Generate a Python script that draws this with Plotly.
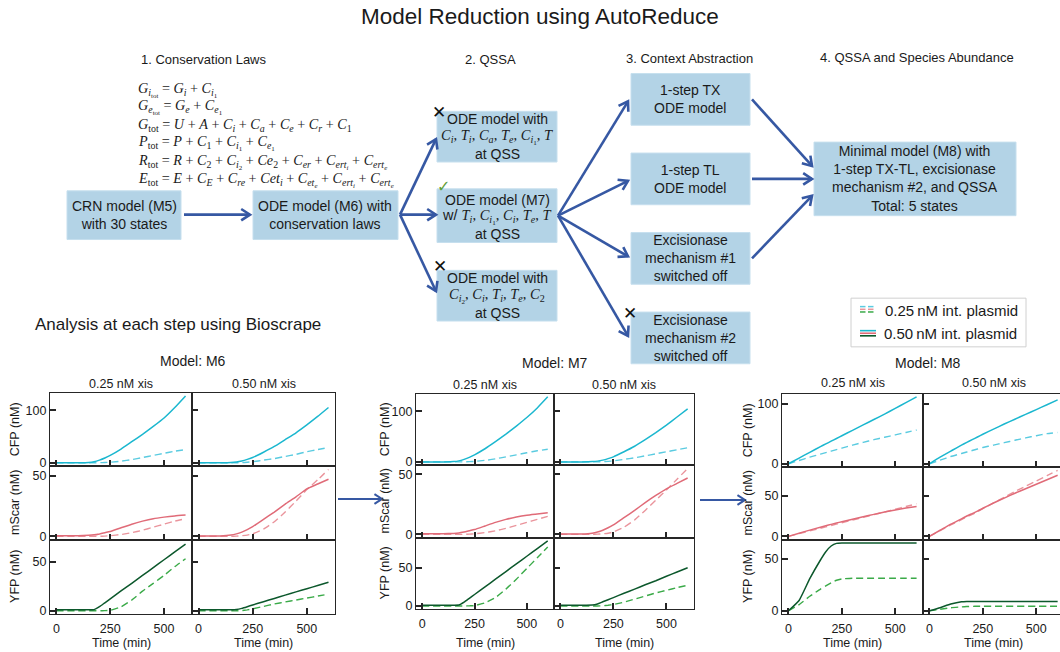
import math
import plotly.graph_objects as go

W, H = 1060, 652

# ---------------------------------------------------------------------------
# Simulation traces (time in minutes, concentrations in nM)
# P50 = 0.50 nM integrase plasmid (solid), P25 = 0.25 nM (dashed)
# X25 / X50 = 0.25 / 0.50 nM xis columns
# ---------------------------------------------------------------------------
TIME = [0, 50, 100, 150, 175, 200, 225, 250, 300, 350, 400, 450, 500, 550, 600]

M6_CFP_X25_P50 = [0, 0, 0, 0.5, 2, 5, 9, 14, 26, 40, 54, 69, 85, 105, 127]
M6_CFP_X25_P25 = [0, 0, 0, 0, 0, 0.2, 0.5, 1, 3, 6, 10, 14, 18, 22, 25]
M6_CFP_X50_P50 = [0, 0, 0, 0.5, 1.5, 3.5, 6.5, 10, 20, 31, 44, 57, 72, 88, 105]
M6_CFP_X50_P25 = [0, 0, 0, 0, 0, 0.3, 1, 2, 5, 8, 12, 16, 21, 25, 29]
M6_MSCAR_X25_P50 = [0.5, 0.5, 0.5, 0.8, 1.2, 2, 3, 4, 7, 10, 12.5, 14.5, 15.8, 16.8, 17.5]
M6_MSCAR_X25_P25 = [0, 0, 0, 0, 0, 0, 0.2, 0.5, 1.5, 3, 5, 7.5, 10, 12.5, 14.5]
M6_MSCAR_X50_P50 = [0.3, 0.3, 0.3, 1, 2, 3.5, 5.5, 8, 14, 20, 26.5, 32.5, 39, 43, 47]
M6_MSCAR_X50_P25 = [0, 0, 0, 0, 0.2, 0.5, 1, 2, 6, 12, 20, 29, 38.5, 46.5, 55]
M6_YFP_X25_P50 = [1, 1, 1, 1, 1.2, 4.2, 8.2, 12.2, 20.2, 28, 36, 44, 52, 60, 68]
M6_YFP_X25_P25 = [0, 0, 0, 0, 0, 0, 0.2, 0.5, 4, 11, 20, 28, 36, 45, 53]
M6_YFP_X50_P50 = [1, 1, 1, 1, 1.3, 2.5, 4.2, 6, 9.3, 12.6, 16, 19.3, 22.5, 25.8, 29]
M6_YFP_X50_P25 = [0, 0, 0, 0, 0, 0.3, 1, 2, 4.5, 7, 9, 11, 13, 15, 17]

M7_CFP_X25_P50 = [0, 0, 0, 0.5, 2, 5, 9, 14, 26, 40, 55, 71, 88, 107, 129]
M7_CFP_X25_P25 = [0, 0, 0, 0, 0, 0.2, 0.5, 1, 3, 6, 10, 14, 18, 22, 25]
M7_CFP_X50_P50 = [0, 0, 0, 0.5, 1.5, 3.5, 6.5, 10, 20, 31, 44, 58, 73, 89, 105]
M7_CFP_X50_P25 = [0, 0, 0, 0, 0, 0.3, 1, 2, 5, 8, 12, 16, 20, 24, 28]
M7_MSCAR_X25_P50 = [0.5, 0.5, 0.5, 0.8, 1.2, 2, 3, 4, 7, 10, 12.5, 14.5, 16, 17, 18]
M7_MSCAR_X25_P25 = [0, 0, 0, 0, 0, 0, 0.2, 0.5, 1.5, 3, 5, 7.5, 10, 12.5, 15]
M7_MSCAR_X50_P50 = [0.3, 0.3, 0.3, 1, 2, 3.5, 5.5, 8, 14, 20, 26.5, 32.5, 38, 42.5, 47]
M7_MSCAR_X50_P25 = [0, 0, 0, 0, 0.2, 0.5, 1, 2, 6, 12, 20, 28.5, 37, 46, 55]
M7_YFP_X25_P50 = [1, 1, 1, 1, 1.2, 5, 10, 15, 25, 35, 45, 55, 65, 75, 85]
M7_YFP_X25_P25 = [0, 0, 0, 0, 0, 0, 0.2, 0.5, 4, 11, 22, 35, 49, 63, 77]
M7_YFP_X50_P50 = [1, 1, 1, 1.3, 2.7, 5.5, 8.2, 11, 16.6, 22, 27.7, 33, 38.8, 44.4, 50]
M7_YFP_X50_P25 = [0, 0, 0, 0, 0, 0.3, 1, 2, 5, 9, 13, 17, 20.5, 24, 27]

M8_CFP_X25_P50 = [0, 9.5, 19, 28.5, 33, 37.5, 42, 46.5, 55.5, 64.5, 73.5, 82.5, 92, 101.5, 111]
M8_CFP_X25_P25 = [0, 5.5, 11, 16, 18.5, 21, 23.5, 26, 31, 35.5, 40, 44, 48, 52, 56]
M8_CFP_X50_P50 = [0, 11, 21, 31, 35.5, 40, 44.5, 49, 57.5, 66, 74, 82, 90, 98, 106]
M8_CFP_X50_P25 = [0, 6, 12, 17, 19.5, 22, 24.5, 27, 31, 35, 39, 43, 46.5, 50, 52]
M8_MSCAR_X25_P50 = [0, 3.9, 7.7, 11.3, 13, 14.7, 16.4, 18, 21.1, 24.1, 27, 29.8, 32.5, 34.8, 36.8]
M8_MSCAR_X25_P25 = [0, 3.3, 6.7, 10, 11.7, 13.3, 15, 16.7, 20, 23.3, 26.7, 30, 33.3, 36.7, 40]
M8_MSCAR_X50_P50 = [0, 7.5, 15, 21.5, 25, 28, 31, 34.5, 41, 47, 53, 58.5, 64, 69.5, 75]
M8_MSCAR_X50_P25 = [0, 7, 14, 20.5, 24, 27, 30.5, 34, 41, 48, 55, 61.5, 68, 74.5, 81]
M8_YFP_X25_P50 = [0, 10, 31, 49, 57, 62.5, 65, 65.3, 65.3, 65.3, 65.3, 65.3, 65.3, 65.3, 65.3]
M8_YFP_X25_P25 = [0, 6, 14, 21, 24, 27, 29.5, 30.8, 31.4, 31.4, 31.4, 31.4, 31.4, 31.4, 31.4]
M8_YFP_X50_P50 = [0, 3, 6.5, 8.7, 9, 9, 9, 9, 9, 9, 9, 9, 9, 9, 9]
M8_YFP_X50_P25 = [0, 1.5, 3, 3.8, 4.1, 4.3, 4.4, 4.4, 4.4, 4.4, 4.4, 4.4, 4.4, 4.4, 4.4]

MODELS = ["M6", "M7", "M8"]
SPECIES = ["CFP", "mScar", "YFP"]
XIS_LABELS = ["0.25 nM xis", "0.50 nM xis"]
X_TICKS = [0, 250, 500]
Y_TICKS = {"CFP": [0, 100], "mScar": [0, 50], "YFP": [0, 50]}

SERIES = {
    ("M6", "CFP"): [(M6_CFP_X25_P50, M6_CFP_X25_P25), (M6_CFP_X50_P50, M6_CFP_X50_P25)],
    ("M6", "mScar"): [(M6_MSCAR_X25_P50, M6_MSCAR_X25_P25), (M6_MSCAR_X50_P50, M6_MSCAR_X50_P25)],
    ("M6", "YFP"): [(M6_YFP_X25_P50, M6_YFP_X25_P25), (M6_YFP_X50_P50, M6_YFP_X50_P25)],
    ("M7", "CFP"): [(M7_CFP_X25_P50, M7_CFP_X25_P25), (M7_CFP_X50_P50, M7_CFP_X50_P25)],
    ("M7", "mScar"): [(M7_MSCAR_X25_P50, M7_MSCAR_X25_P25), (M7_MSCAR_X50_P50, M7_MSCAR_X50_P25)],
    ("M7", "YFP"): [(M7_YFP_X25_P50, M7_YFP_X25_P25), (M7_YFP_X50_P50, M7_YFP_X50_P25)],
    ("M8", "CFP"): [(M8_CFP_X25_P50, M8_CFP_X25_P25), (M8_CFP_X50_P50, M8_CFP_X50_P25)],
    ("M8", "mScar"): [(M8_MSCAR_X25_P50, M8_MSCAR_X25_P25), (M8_MSCAR_X50_P50, M8_MSCAR_X50_P25)],
    ("M8", "YFP"): [(M8_YFP_X25_P50, M8_YFP_X25_P25), (M8_YFP_X50_P50, M8_YFP_X50_P25)],
}

# ---------------------------------------------------------------------------
# Styling
# ---------------------------------------------------------------------------
SANS = "Liberation Sans, Arial, sans-serif"
SERIF = "Liberation Serif"
TXT = "#1a1a1a"
BOX_FILL = "#b3d3e6"
BOX_EDGE = "#c6dfee"
ARROW = "#3658a3"
FRAME = "#262626"

COLORS = {
    "CFP": ("#1bb7cf", "#5acbe0"),
    "mScar": ("#e06b78", "#ea949c"),
    "YFP": ("#0c582c", "#3aaa48"),
}

# panel geometry in pixels: column edges and row edges for each model block
BLOCKS = {
    "M6": dict(cols=[(50, 192), (192, 335)], rows=[(395, 469), (469, 543), (543, 618)],
               xr=[[-30, 630], [-30, 630]],
               yr={"CFP": [-6.35, 133.35], "mScar": [-2.75, 57.75], "YFP": [-3.45, 72.45]}),
    "M7": dict(cols=[(416, 554), (554, 694)], rows=[(396, 468), (468, 541), (541, 613)],
               xr=[[-30, 630], [-30, 630]],
               yr={"CFP": [-6.45, 135.45], "mScar": [-2.75, 57.75], "YFP": [-4.25, 89.25]}),
    "M8": dict(cols=[(782, 923), (923, 1060)], rows=[(396, 470), (470, 543), (543, 618)],
               xr=[[-30, 630], [-30, 611]],
               yr={"CFP": [-5.55, 116.55], "mScar": [-4.05, 85.05], "YFP": [-3.27, 68.6]}),
}
BLOCK_TITLE_Y = {"M6": 363, "M7": 365, "M8": 365}
COL_TITLE_Y = {"M6": 386, "M7": 387, "M8": 385}
YLABEL_X = {"M6": 15, "M7": 385, "M8": 748}


def px(x):
    return x / W


def py(y):
    return 1 - y / H


fig = go.Figure()
layout = {}
annotations = []
shapes = []


def note(x, y, text, size=12, family=SANS, color=TXT, xanchor="center", angle=0, **kw):
    annotations.append(dict(x=px(x), y=py(y), xref="paper", yref="paper", text=text,
                            showarrow=False, xanchor=xanchor, yanchor="middle",
                            textangle=angle, font=dict(size=size, family=family, color=color),
                            **kw))


# ---------------------------------------------------------------------------
# Small multiples
# ---------------------------------------------------------------------------
idx = 0
for model in MODELS:
    blk = BLOCKS[model]
    for r, sp in enumerate(SPECIES):
        for c in range(2):
            idx += 1
            xname = "xaxis" if idx == 1 else f"xaxis{idx}"
            yname = "yaxis" if idx == 1 else f"yaxis{idx}"
            xref = "x" if idx == 1 else f"x{idx}"
            yref = "y" if idx == 1 else f"y{idx}"
            (x0, x1), (y0, y1) = blk["cols"][c], blk["rows"][r]
            cut = model == "M8" and c == 1
            layout[xname] = dict(
                domain=[px(x0), px(x1)], anchor=yref, range=blk["xr"][c],
                showline=True, linecolor=FRAME, linewidth=1.3, mirror=True,
                ticks="inside", ticklen=6, tickwidth=1.6, tickcolor=FRAME,
                tickvals=X_TICKS, showticklabels=(r == 2), showgrid=False, zeroline=False,
                tickfont=dict(size=12.5, family=SANS, color=TXT), fixedrange=True,
                ticklabelstandoff=3,
            )
            layout[yname] = dict(
                domain=[py(y1), py(y0)], anchor=xref, range=blk["yr"][sp],
                showline=True, linecolor=FRAME, linewidth=1.3, mirror=not cut,
                ticks="inside", ticklen=6, tickwidth=1.6, tickcolor=FRAME,
                tickvals=Y_TICKS[sp], showticklabels=(c == 0), showgrid=False, zeroline=False,
                tickfont=dict(size=12.5, family=SANS, color=TXT), fixedrange=True,
            )
            solid, dashed = SERIES[(model, sp)][c]
            col_solid, col_dash = COLORS[sp]
            fig.add_trace(go.Scatter(
                x=TIME, y=dashed, mode="lines", xaxis=xref, yaxis=yref,
                line=dict(color=col_dash, width=1.4, dash="7px,4px", shape="spline", smoothing=0.4),
                showlegend=False, hoverinfo="skip"))
            fig.add_trace(go.Scatter(
                x=TIME, y=solid, mode="lines", xaxis=xref, yaxis=yref,
                line=dict(color=col_solid, width=1.5, shape="spline", smoothing=0.4),
                showlegend=False, hoverinfo="skip"))
            xc = (x0 + (x0 + 141 if cut else x1)) / 2
            if r == 0:
                note(xc, COL_TITLE_Y[model], XIS_LABELS[c], size=12.5)
            if r == 2:
                note(xc, 647, "Time (min)", size=12.5)
            if c == 0:
                note(YLABEL_X[model], (y0 + y1) / 2, f"{sp} (nM)", size=12.5, angle=-90)
    cx0 = blk["cols"][0][0]
    cx1 = blk["cols"][1][1] if model != "M8" else blk["cols"][1][0] + 150
    note((cx0 + cx1) / 2, BLOCK_TITLE_Y[model], f"Model: {model}", size=14)


# ---------------------------------------------------------------------------
# Flowchart
# ---------------------------------------------------------------------------
def box(x0, y0, x1, y1):
    shapes.append(dict(type="rect", xref="paper", yref="paper",
                       x0=px(x0), x1=px(x1), y0=py(y1), y1=py(y0),
                       fillcolor=BOX_FILL, line=dict(color=BOX_EDGE, width=1), layer="below"))


def arrow(x0, y0, x1, y1, head=10.5, spread=math.radians(33), width=2.6):
    ang = math.atan2(y1 - y0, x1 - x0)
    ha = (x1 - head * math.cos(ang - spread), y1 - head * math.sin(ang - spread))
    hb = (x1 - head * math.cos(ang + spread), y1 - head * math.sin(ang + spread))
    shapes.append(dict(type="path", xref="paper", yref="paper",
                       path=f"M{px(x0)},{py(y0)} L{px(x1)},{py(y1)}",
                       line=dict(color=ARROW, width=width)))
    shapes.append(dict(type="path", xref="paper", yref="paper",
                       path=f"M{px(ha[0])},{py(ha[1])} L{px(x1)},{py(y1)} L{px(hb[0])},{py(hb[1])}",
                       line=dict(color=ARROW, width=width)))


def math_line(s):
    return f'<span style="font-family:{SERIF}">{s}</span>'


# headings
note(540, 17, "Model Reduction using AutoReduce", size=22.5)
note(204, 60, "1. Conservation Laws", size=13)
note(490, 60, "2. QSSA", size=13)
note(689, 59, "3. Context Abstraction", size=13)
note(917, 58, "4. QSSA and Species Abundance", size=13)
note(33, 327, "Analysis at each step using Bioscrape", size=17, xanchor="left")

# conservation laws
EQUATIONS = [
    "<i>G</i><sub><i>i</i><sub>tot</sub></sub> = <i>G<sub>i</sub></i> + <i>C</i><sub><i>i</i><sub>1</sub></sub>",
    "<i>G</i><sub><i>e</i><sub>tot</sub></sub> = <i>G<sub>e</sub></i> + <i>C</i><sub><i>e</i><sub>1</sub></sub>",
    "<i>G</i><sub>tot</sub> = <i>U</i> + <i>A</i> + <i>C<sub>i</sub></i> + <i>C<sub>a</sub></i> + "
    "<i>C<sub>e</sub></i> + <i>C<sub>r</sub></i> + <i>C</i><sub>1</sub>",
    "<i>P</i><sub>tot</sub> = <i>P</i> + <i>C</i><sub>1</sub> + <i>C</i><sub><i>i</i><sub>1</sub></sub> + "
    "<i>C</i><sub><i>e</i><sub>1</sub></sub>",
    "<i>R</i><sub>tot</sub> = <i>R</i> + <i>C</i><sub>2</sub> + <i>C</i><sub><i>i</i><sub>2</sub></sub> + "
    "<i>Ce</i><sub>2</sub> + <i>C<sub>er</sub></i> + <i>C</i><sub><i>ert<sub>i</sub></i></sub> + "
    "<i>C</i><sub><i>ert<sub>e</sub></i></sub>",
    "<i>E</i><sub>tot</sub> = <i>E</i> + <i>C<sub>E</sub></i> + <i>C<sub>re</sub></i> + <i>Cet<sub>i</sub></i> + "
    "<i>C</i><sub><i>et<sub>e</sub></i></sub> + <i>C</i><sub><i>ert<sub>i</sub></i></sub> + "
    "<i>C</i><sub><i>ert<sub>e</sub></i></sub>",
]
for eq, yy in zip(EQUATIONS, [91, 108, 126, 144, 163, 181]):
    note(136, yy, eq, size=14.2, family=SERIF, xanchor="left")

# boxes
box(67, 192, 181, 241)
box(253, 192, 398, 241)
box(437, 112, 557, 163)
box(437, 190, 557, 244)
box(437, 272, 557, 323)
box(631, 74, 750, 126)
box(631, 154, 750, 206)
box(631, 234, 750, 286)
box(631, 314, 750, 366)
box(814, 143, 1016, 217)

note(124, 216, "CRN model (M5)<br>with 30 states", size=14)
note(325, 216, "ODE model (M6) with<br>conservation laws", size=14)

QSSA_TEXT = [
    (["ODE model with",
      math_line("<i>C<sub>i</sub></i>, <i>T<sub>i</sub></i>, <i>C<sub>a</sub></i>, <i>T<sub>e</sub></i>, "
                "<i>C</i><sub><i>i</i><sub>1</sub></sub>, <i>T</i>"),
      "at QSS"], [120, 138, 155]),
    (["ODE model (M7)",
      "w/ " + math_line("<i>T<sub>i</sub></i>, <i>C</i><sub><i>i</i><sub>1</sub></sub>, <i>C<sub>i</sub></i>, "
                        "<i>T<sub>e</sub></i>, <i>T</i>"),
      "at QSS"], [201, 218, 235]),
    (["ODE model with",
      math_line("<i>C</i><sub><i>i</i><sub>2</sub></sub>, <i>C<sub>i</sub></i>, <i>T<sub>i</sub></i>, "
                "<i>T<sub>e</sub></i>, <i>C</i><sub>2</sub>"),
      "at QSS"], [280, 298, 315]),
]
for lines, ys in QSSA_TEXT:
    for k, (ln, yy) in enumerate(zip(lines, ys)):
        note(497, yy, ln, size=14.5 if k == 1 else 14)

note(690, 100, "1-step TX<br>ODE model", size=14)
note(690, 180, "1-step TL<br>ODE model", size=14)
note(690, 260, "Excisionase<br>mechanism #1<br>switched off", size=14)
note(690, 340, "Excisionase<br>mechanism #2<br>switched off", size=14)
note(915, 180, "Minimal model (M8) with<br>1-step TX-TL, excisionase<br>"
     "mechanism #2, and QSSA<br>Total: 5 states", size=14)

# rejected / accepted markers
note(439, 113, "✕", size=17, family="DejaVu Sans", color="#111111")
note(440, 268, "✕", size=17, family="DejaVu Sans", color="#111111")
note(630, 315, "✕", size=17, family="DejaVu Sans", color="#111111")
note(443, 188, "✓", size=16, family="DejaVu Sans", color="#5f9e3a")

# arrows
arrow(184, 216, 250, 216)
for ty in (140, 216, 293):
    arrow(400, 216, 436, ty)
for ty in (102, 182, 258, 338):
    arrow(558, 217, 628, ty)
arrow(752, 100, 812, 167)
arrow(752, 180, 812, 180)
arrow(752, 260, 812, 197)
arrow(338, 502, 382, 502, head=9, width=2)
arrow(700, 503, 745, 503, head=9, width=2)

# legend
shapes.append(dict(type="rect", xref="paper", yref="paper", x0=px(851), x1=px(1026),
                   y0=py(349), y1=py(300), fillcolor="white",
                   line=dict(color="#d0d0d0", width=1)))
for k, sp in enumerate(SPECIES):
    col_solid, col_dash = COLORS[sp]
    yy = 308.5 + 2.7 * k
    for a, b in ((860, 865.5), (868, 873.5)):
        shapes.append(dict(type="line", xref="paper", yref="paper", x0=px(a), x1=px(b),
                           y0=py(yy), y1=py(yy), line=dict(color=col_dash, width=1.5)))
    yy = 332.7 + 2.6 * k
    shapes.append(dict(type="line", xref="paper", yref="paper", x0=px(860), x1=px(876),
                       y0=py(yy), y1=py(yy), line=dict(color=col_solid, width=1.6)))
note(883, 312, "0.25\u2009nM int. plasmid", size=15, xanchor="left")
note(882, 336, "0.50\u2009nM int. plasmid", size=15, xanchor="left")

fig.update_layout(
    width=W, height=H, autosize=False,
    margin=dict(l=0, r=0, t=0, b=0),
    paper_bgcolor="white", plot_bgcolor="white",
    showlegend=False, shapes=shapes, annotations=annotations,
    **layout,
)

fig.write_html("out.html")
